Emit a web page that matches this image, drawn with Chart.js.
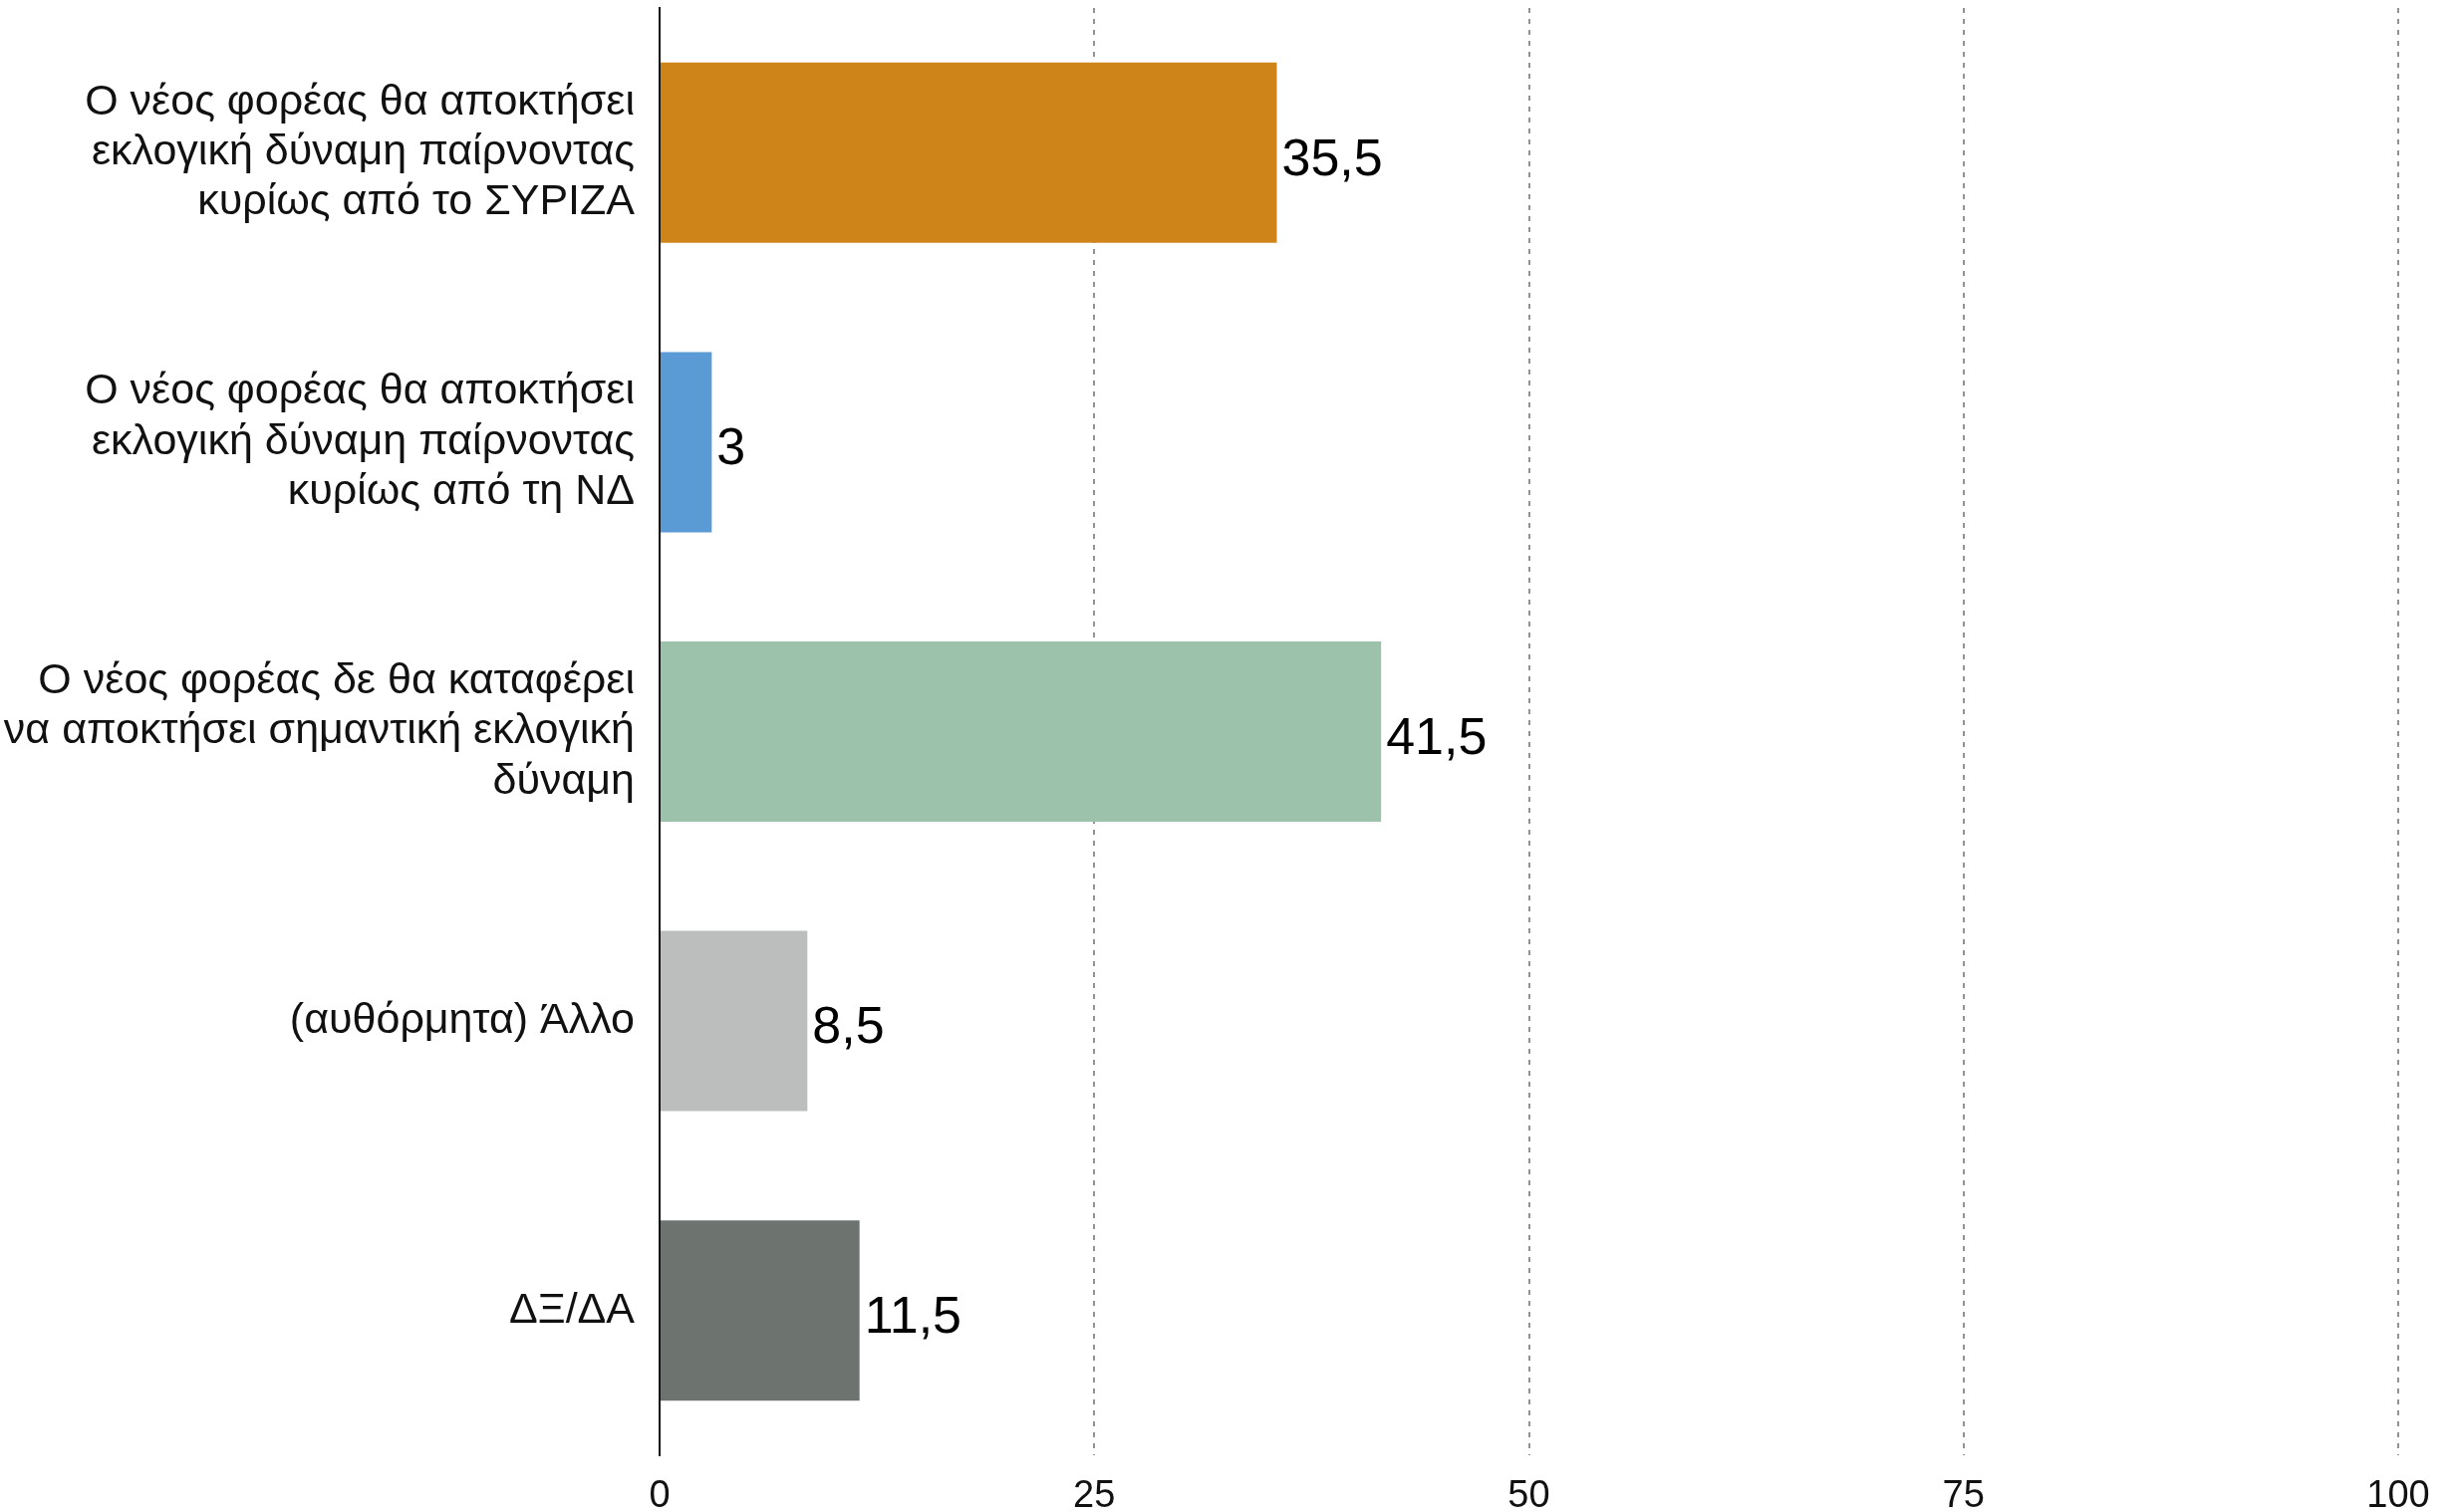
<!DOCTYPE html>
<html>
<head>
<meta charset="utf-8">
<script src="https://cdn.jsdelivr.net/npm/chart.js@4/dist/chart.umd.min.js"></script>
<style>
  html, body { margin: 0; padding: 0; background: #fff; }
  #wrap { width: 2468px; height: 1518px; }
</style>
</head>
<body>
<div id="wrap"><canvas id="chart" width="2468" height="1518"></canvas></div>
<script>
// Categories (multi-line labels as arrays)
const categories = [
    ["Ο νέος φορέας θα αποκτήσει", "εκλογική δύναμη παίρνοντας", "κυρίως από το ΣΥΡΙΖΑ"],
    ["Ο νέος φορέας θα αποκτήσει", "εκλογική δύναμη παίρνοντας", "κυρίως από τη ΝΔ"],
    ["Ο νέος φορέας δε θα καταφέρει", "να αποκτήσει σημαντική εκλογική", "δύναμη"],
    "(αυθόρμητα) Άλλο",
    "ΔΞ/ΔΑ"
];
const values = [35.5, 3, 41.5, 8.5, 11.5];
const barColors = ["#cf8419", "#5b9bd5", "#9dc2ac", "#bbbebc", "#6d7470"];
const xTicks = [0, 25, 50, 75, 100];

const fontFamily = '"Liberation Sans", Arial, Helvetica, sans-serif';

// Draw the number at the end of every bar (comma decimals)
const valueLabelPlugin = {
    id: 'valueLabels',
    afterDatasetsDraw(chart) {
        const ctx = chart.ctx;
        const meta = chart.getDatasetMeta(0);
        ctx.save();
        ctx.font = '52px ' + fontFamily;
        ctx.fillStyle = '#000';
        ctx.textAlign = 'left';
        ctx.textBaseline = 'middle';
        meta.data.forEach(function(bar, i) {
            let txt = String(values[i]).replace('.', ',');
            ctx.fillText(txt, bar.x + 5, bar.y + 8);
        });
        ctx.restore();
    }
};

new Chart(document.getElementById('chart'), {
    type: 'bar',
    data: {
        labels: categories,
        datasets: [{
            data: values,
            backgroundColor: barColors,
            borderWidth: 0,
            categoryPercentage: 1,
            barPercentage: 0.623
        }]
    },
    options: {
        indexAxis: 'y',
        responsive: false,
        maintainAspectRatio: false,
        animation: false,
        layout: {
            padding: { top: 8, right: 61, left: 0, bottom: 0 }
        },
        plugins: {
            legend: { display: false },
            tooltip: { enabled: false }
        },
        scales: {
            x: {
                min: 0,
                max: 100,
                afterBuildTicks: function(scale) {
                    scale.ticks = xTicks.map(v => ({ value: v }));
                },
                afterFit: function(scale) {
                    scale.height = 57;
                    scale.paddingLeft = 0;
                    scale.paddingRight = 0;
                },
                grid: {
                    drawTicks: false,
                    lineWidth: 2,
                    color: function(c) {
                        return c.tick && c.tick.value === 0 ? 'rgba(0,0,0,0)' : '#929292';
                    }
                },
                border: { display: false, dash: [5, 6] },
                ticks: {
                    padding: 19,
                    color: '#111',
                    font: { family: fontFamily, size: 38 }
                }
            },
            y: {
                afterFit: function(scale) {
                    scale.width = 662;
                    scale.paddingTop = 0;
                    scale.paddingBottom = 0;
                },
                grid: { display: false, drawTicks: false },
                border: { display: true, color: '#111', width: 2 },
                ticks: {
                    autoSkip: false,
                    padding: 25,
                    color: '#111',
                    font: { family: fontFamily, size: 43, lineHeight: 1.17 }
                }
            }
        }
    },
    plugins: [valueLabelPlugin]
});
</script>
</body>
</html>
